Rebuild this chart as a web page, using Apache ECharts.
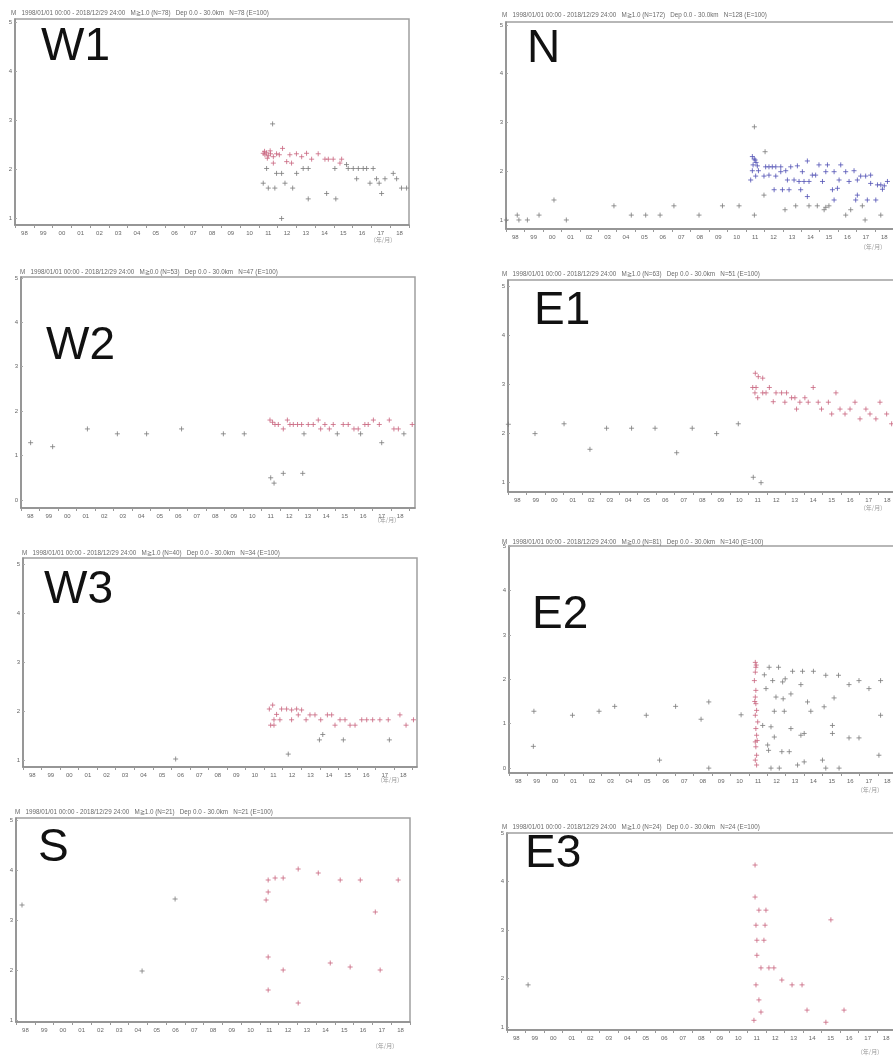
<!DOCTYPE html>
<html>
<head>
<meta charset="utf-8">
<script src="https://cdn.jsdelivr.net/npm/echarts@6.0.0/dist/echarts.min.js"></script>
<style>
html,body{margin:0;padding:0;background:#fff;overflow:hidden;}
#main{width:900px;height:1057px;}
</style>
</head>
<body>
<div id="main"></div>
<script>
// x axis: one label per year, centred in the year
var yearStart=1998;
var yearLabels=['98','99','00','01','02','03','04','05','06','07','08','09','10','11','12','13','14','15','16','17','18'];
var magTicks5=[1,2,3,4,5];
var magTicks6=[0,1,2,3,4,5];
var panelNames=['W1','N','W2','E1','W3','E2','S','E3'];
var unitText='(年/月)';
var headerTexts=[
    'M   1998/01/01 00:00 - 2018/12/29 24:00   M≧1.0 (N=78)   Dep 0.0 - 30.0km   N=78 (E=100)',
    'M   1998/01/01 00:00 - 2018/12/29 24:00   M≧1.0 (N=172)   Dep 0.0 - 30.0km   N=128 (E=100)',
    'M   1998/01/01 00:00 - 2018/12/29 24:00   M≧0.0 (N=53)   Dep 0.0 - 30.0km   N=47 (E=100)',
    'M   1998/01/01 00:00 - 2018/12/29 24:00   M≧1.0 (N=63)   Dep 0.0 - 30.0km   N=51 (E=100)',
    'M   1998/01/01 00:00 - 2018/12/29 24:00   M≧1.0 (N=40)   Dep 0.0 - 30.0km   N=34 (E=100)',
    'M   1998/01/01 00:00 - 2018/12/29 24:00   M≧0.0 (N=81)   Dep 0.0 - 30.0km   N=140 (E=100)',
    'M   1998/01/01 00:00 - 2018/12/29 24:00   M≧1.0 (N=21)   Dep 0.0 - 30.0km   N=21 (E=100)',
    'M   1998/01/01 00:00 - 2018/12/29 24:00   M≧1.0 (N=24)   Dep 0.0 - 30.0km   N=24 (E=100)'
];

// [decimal year, magnitude]
var w1Gray=[[2011.73,2.92],[2015.67,2.09],[2015.76,2.01],[2016.03,2.01],[2016.30,2.01],[2016.56,2.01],[2016.74,2.01],[2017.09,2.01],
    [2011.41,2.01],[2011.94,1.91],[2012.21,1.91],[2013.01,1.91],[2013.36,2.01],[2013.63,2.01],[2015.05,2.01],[2011.23,1.71],
    [2011.50,1.61],[2011.85,1.61],[2012.39,1.71],[2012.80,1.61],[2013.63,1.39],[2014.61,1.50],[2015.10,1.39],[2016.21,1.80],
    [2016.92,1.71],[2017.27,1.80],[2017.41,1.71],[2017.54,1.50],[2017.72,1.80],[2018.16,1.91],[2018.34,1.80],[2018.60,1.61],
    [2018.87,1.61],[2012.21,0.99]];
var w1Red=[[2011.23,2.32],[2011.32,2.29],[2011.41,2.33],[2011.50,2.27],[2011.62,2.31],[2011.77,2.25],[2011.94,2.31],[2012.09,2.29],
    [2012.26,2.42],[2012.65,2.29],[2013.00,2.31],[2013.28,2.25],[2013.54,2.32],[2013.81,2.20],[2014.16,2.31],[2014.52,2.20],
    [2014.70,2.20],[2014.96,2.20],[2015.41,2.20],[2015.32,2.12],[2011.77,2.12],[2012.48,2.15],[2012.74,2.12],[2011.30,2.36],
    [2011.45,2.22],[2011.60,2.37]];

var nGray=[[1998.02,1.00],[1998.61,1.10],[1998.70,1.00],[1999.16,1.00],[1999.79,1.10],[2000.60,1.41],[2001.27,1.00],[2003.85,1.29],
    [2004.79,1.10],[2005.57,1.10],[2006.35,1.10],[2007.10,1.29],[2008.46,1.10],[2009.73,1.29],[2010.63,1.29],[2011.46,1.10],
    [2011.46,2.91],[2012.04,2.40],[2011.98,1.51],[2013.12,1.21],[2013.70,1.29],[2014.42,1.29],[2014.87,1.29],[2015.33,1.26],
    [2015.50,1.29],[2016.41,1.10],[2017.31,1.29],[2017.46,1.00],[2018.31,1.10],[2016.68,1.21],[2015.24,1.21]];
var nBlue=[[2011.35,2.30],[2011.50,2.23],[2011.39,2.13],[2011.62,2.11],[2011.35,2.01],[2011.68,2.01],[2011.26,1.82],[2011.53,1.90],
    [2011.45,2.25],[2011.55,2.18],[2012.07,2.09],[2012.25,2.09],[2012.43,2.09],[2012.62,2.09],[2012.89,2.09],[2013.16,2.01],
    [2013.43,2.09],[2013.79,2.11],[2014.06,1.99],[2014.33,2.21],[2014.96,2.13],[2015.42,2.13],[2016.14,2.13],[2014.60,1.92],
    [2014.78,1.92],[2015.33,1.99],[2015.78,1.99],[2016.41,1.99],[2016.86,2.01],[2017.22,1.90],[2017.49,1.90],[2017.76,1.92],
    [2011.98,1.90],[2012.25,1.92],[2012.62,1.90],[2012.89,1.99],[2013.25,1.82],[2013.61,1.82],[2013.88,1.79],[2014.15,1.79],
    [2014.42,1.79],[2015.15,1.79],[2016.05,1.82],[2016.59,1.79],[2017.04,1.82],[2017.76,1.75],[2018.13,1.72],[2018.40,1.63],
    [2018.67,1.79],[2012.53,1.62],[2012.98,1.62],[2013.34,1.62],[2013.97,1.62],[2015.69,1.62],[2015.96,1.65],[2017.04,1.51],
    [2014.33,1.48],[2015.78,1.41],[2016.95,1.41],[2017.58,1.41],[2018.04,1.41],[2018.31,1.72],[2018.50,1.70]];

var w2Gray=[[1998.52,1.29],[1999.71,1.20],[2001.59,1.60],[2003.21,1.49],[2004.79,1.49],[2006.68,1.60],[2008.94,1.49],[2010.07,1.49],
    [2011.50,0.50],[2011.68,0.38],[2012.18,0.60],[2013.23,0.60],[2017.50,1.29],[2013.30,1.49],[2015.10,1.49],[2016.36,1.49],
    [2018.70,1.49]];
var w2Red=[[2011.46,1.80],[2011.60,1.75],[2011.73,1.70],[2011.91,1.70],[2012.18,1.60],[2012.40,1.80],[2012.54,1.70],[2012.72,1.70],
    [2012.95,1.70],[2013.17,1.70],[2013.53,1.70],[2013.80,1.70],[2014.07,1.80],[2014.20,1.60],[2014.43,1.70],[2014.67,1.60],
    [2014.88,1.70],[2015.42,1.70],[2015.69,1.70],[2016.00,1.60],[2016.23,1.60],[2016.59,1.70],[2016.77,1.70],[2017.05,1.80],
    [2017.37,1.70],[2017.91,1.80],[2018.16,1.60],[2018.40,1.60],[2019.15,1.70]];

var e1Gray=[[1998.02,2.18],[1999.46,1.99],[2001.03,2.19],[2002.43,1.67],[2003.33,2.10],[2004.68,2.10],[2005.95,2.10],[2007.12,1.60],
    [2007.96,2.10],[2009.28,1.99],[2010.45,2.19],[2011.26,1.10],[2011.68,0.99]];
var e1Red=[[2011.37,3.22],[2011.53,3.15],[2011.77,3.12],[2011.23,2.93],[2011.41,2.93],[2011.35,2.82],[2011.50,2.72],[2011.77,2.82],
    [2011.95,2.82],[2012.13,2.93],[2012.34,2.64],[2012.49,2.82],[2012.79,2.82],[2013.06,2.82],[2012.97,2.63],[2013.33,2.72],
    [2013.51,2.72],[2013.60,2.49],[2013.78,2.63],[2014.05,2.72],[2014.23,2.63],[2014.50,2.93],[2014.77,2.63],[2014.95,2.49],
    [2015.32,2.63],[2015.50,2.39],[2015.73,2.82],[2015.95,2.49],[2016.22,2.39],[2016.49,2.49],[2016.76,2.63],[2017.03,2.29],
    [2017.35,2.49],[2017.57,2.39],[2017.89,2.29],[2018.11,2.63],[2018.47,2.39],[2018.74,2.19]];

var w3Gray=[[2006.23,1.02],[2013.98,1.41],[2014.16,1.52],[2015.27,1.41],[2017.75,1.41],[2012.30,1.12]];
var w3Red=[[2011.28,2.04],[2011.46,2.12],[2011.67,1.93],[2011.94,2.04],[2012.21,2.04],[2012.48,2.02],[2012.75,2.04],[2013.02,2.02],
    [2011.53,1.82],[2011.85,1.82],[2012.48,1.82],[2012.84,1.92],[2013.26,1.82],[2013.47,1.92],[2013.74,1.92],[2014.05,1.82],
    [2014.41,1.92],[2014.64,1.92],[2014.82,1.71],[2015.09,1.82],[2015.36,1.82],[2015.63,1.71],[2015.90,1.71],[2016.26,1.82],
    [2016.53,1.82],[2016.85,1.82],[2017.24,1.82],[2017.69,1.82],[2018.32,1.92],[2018.65,1.71],[2019.05,1.82],[2011.35,1.71],
    [2011.53,1.71]];

var e2Gray=[[1999.35,1.28],[1999.32,0.49],[2001.44,1.19],[2002.88,1.28],[2003.73,1.39],[2005.44,1.19],[2006.16,0.18],[2007.03,1.39],
    [2008.41,1.10],[2008.83,1.49],[2008.83,0.00],[2010.58,1.20],[2012.10,2.27],[2012.61,2.27],[2011.84,2.10],[2012.29,1.97],
    [2012.83,1.94],[2012.97,2.01],[2013.37,2.18],[2013.91,2.18],[2014.50,2.18],[2015.17,2.09],[2015.86,2.09],[2016.43,1.88],
    [2016.97,1.97],[2017.51,1.79],[2018.14,1.97],[2013.82,1.88],[2011.93,1.79],[2012.47,1.60],[2012.86,1.56],[2013.28,1.67],
    [2014.18,1.49],[2015.08,1.38],[2015.62,1.58],[2012.38,1.28],[2012.92,1.28],[2014.36,1.28],[2018.14,1.19],[2011.75,0.96],
    [2012.20,0.93],[2013.28,0.89],[2013.82,0.74],[2014.00,0.78],[2015.53,0.96],[2015.53,0.78],[2016.43,0.68],[2016.97,0.68],
    [2012.38,0.70],[2012.02,0.52],[2012.07,0.40],[2012.79,0.37],[2013.19,0.37],[2013.64,0.07],[2014.00,0.14],[2014.99,0.18],
    [2015.17,0.00],[2015.89,0.00],[2012.20,0.00],[2012.65,0.00],[2018.05,0.29]];
var e2Red=[[2011.35,2.38],[2011.38,2.27],[2011.35,2.16],[2011.30,1.97],[2011.38,1.75],[2011.35,1.60],[2011.38,1.45],[2011.42,1.30],
    [2011.35,1.19],[2011.48,1.04],[2011.38,0.89],[2011.42,0.74],[2011.35,0.59],[2011.38,0.48],[2011.42,0.29],[2011.35,0.18],
    [2011.42,0.07],[2011.40,2.32],[2011.32,1.50],[2011.45,0.62]];

var sGray=[[1998.32,3.30],[2006.48,3.42],[2004.72,1.98]];
var sRed=[[2011.44,3.80],[2011.81,3.84],[2012.24,3.84],[2011.44,3.56],[2011.33,3.40],[2013.04,4.02],[2014.11,3.94],[2015.28,3.80],
    [2016.35,3.80],[2018.37,3.80],[2017.15,3.16],[2011.44,2.26],[2011.44,1.60],[2012.24,2.00],[2013.04,1.34],[2014.75,2.14],
    [2015.81,2.06],[2017.41,2.00]];

var e3Gray=[[1999.14,1.87]];
var e3Red=[[2011.41,4.34],[2011.41,3.68],[2011.62,3.41],[2012.00,3.41],[2011.46,3.10],[2011.95,3.10],[2011.51,2.79],[2011.89,2.79],
    [2011.51,2.48],[2011.73,2.22],[2012.16,2.22],[2011.46,1.87],[2011.62,1.56],[2011.73,1.31],[2011.35,1.14],[2012.43,2.22],
    [2012.86,1.97],[2013.41,1.87],[2013.95,1.87],[2015.51,3.21],[2014.22,1.35],[2016.22,1.35],[2015.24,1.10]];

window.onload=function(){
    var chart=echarts.init(document.getElementById('main'));
    var red='#c8647e',blue='#5050b4',gray='#7a7a7a';
    // panel boxes (pixels) and axis ranges
    var panels=[
        {l:15, t:19, w:394,h:206,xMax:2019.00,yMin:0.857,yMax:5.06,ticks:magTicks5,lx:41, ly:47.5,hx:11, hy:13, ux:383,uy:240, a:w1Gray,b:w1Red,c:red},
        {l:506,t:22, w:389,h:207,xMax:2019.08,yMin:0.815,yMax:5.06,ticks:magTicks5,lx:527,ly:49.5,hx:502,hy:15, ux:873,uy:247, a:nGray, b:nBlue,c:blue},
        {l:21, t:277,w:394,h:231,xMax:2019.30,yMin:-0.18,yMax:5.02,ticks:magTicks6,lx:46, ly:346.5,hx:20,hy:272,ux:387,uy:520, a:w2Gray,b:w2Red,c:red},
        {l:508,t:280,w:389,h:212,xMax:2019.03,yMin:0.80, yMax:5.12,ticks:magTicks5,lx:534,ly:311.5,hx:502,hy:274,ux:873,uy:508,a:e1Gray,b:e1Red,c:red},
        {l:23, t:558,w:394,h:209,xMax:2019.24,yMin:0.857,yMax:5.12,ticks:magTicks5,lx:44, ly:590, hx:22, hy:553,ux:390,uy:780, a:w3Gray,b:w3Red,c:red},
        {l:509,t:546,w:388,h:227,xMax:2019.03,yMin:-0.11,yMax:5.00,ticks:magTicks6,lx:532,ly:615, hx:502,hy:542,ux:870,uy:790, a:e2Gray,b:e2Red,c:red},
        {l:16, t:818,w:394,h:204,xMax:2019.00,yMin:0.96, yMax:5.04,ticks:magTicks5,lx:38, ly:848, hx:15, hy:812,ux:385,uy:1046,a:sGray, b:sRed, c:red},
        {l:507,t:833,w:389,h:197,xMax:2019.03,yMin:0.94, yMax:5.00,ticks:magTicks5,lx:525,ly:854, hx:502,hy:827,ux:870,uy:1052,a:e3Gray,b:e3Red,c:red}
    ];
    var tickYears=[],labelYears=[];
    for(var k=0;k<yearLabels.length;k++){
        tickYears.push(yearStart+k);
        labelYears.push(yearStart+k+0.5);
    }
    tickYears.push(yearStart+yearLabels.length);
    var mark='path://M5,0L5,10M0,5L10,5';
    var grids=[],xAxes=[],yAxes=[],series=[],graphics=[];
    panels.forEach(function(p,i){
        grids.push({left:p.l,top:p.t,width:p.w,height:p.h,show:true,borderColor:'#a0a0a0',borderWidth:1.5});
        xAxes.push({
            type:'value',gridIndex:i,min:yearStart,max:p.xMax,
            axisLine:{show:true,onZero:false,lineStyle:{color:'#8c8c8c',width:1.5}},
            splitLine:{show:false},
            axisTick:{show:true,customValues:tickYears,length:3,lineStyle:{color:'#999'}},
            axisLabel:{customValues:labelYears,fontSize:6,color:'#666',margin:5,
                formatter:function(v){return yearLabels[Math.floor(v+0.1)-yearStart];}}
        });
        yAxes.push({
            type:'value',gridIndex:i,min:p.yMin,max:p.yMax,
            axisLine:{show:true,onZero:false,lineStyle:{color:'#8c8c8c',width:1.5}},
            splitLine:{show:false},
            axisTick:{show:true,customValues:p.ticks,length:2,inside:true,lineStyle:{color:'#aaa'}},
            axisLabel:{customValues:p.ticks,fontSize:6,color:'#666',margin:3}
        });
        series.push({type:'scatter',xAxisIndex:i,yAxisIndex:i,data:p.a,symbol:mark,symbolSize:5,silent:true,
            itemStyle:{color:gray,borderColor:gray,borderWidth:1}});
        series.push({type:'scatter',xAxisIndex:i,yAxisIndex:i,data:p.b,symbol:mark,symbolSize:5,silent:true,
            itemStyle:{color:p.c,borderColor:p.c,borderWidth:1}});
        graphics.push({type:'text',x:p.lx,y:p.ly,style:{text:panelNames[i],fontSize:46,fontFamily:'Liberation Sans',fill:'#111',verticalAlign:'middle'}});
        graphics.push({type:'text',x:p.hx,y:p.hy,style:{text:headerTexts[i],fontSize:6.3,fontFamily:'Liberation Sans',fill:'#6a6a6a',verticalAlign:'middle'}});
        graphics.push({type:'text',x:p.ux,y:p.uy,style:{text:unitText,fontSize:6,fontFamily:'Noto Sans CJK JP',fill:'#999',align:'center',verticalAlign:'middle'}});
    });
    chart.setOption({
        animation:false,
        backgroundColor:'#fff',
        grid:grids,
        xAxis:xAxes,
        yAxis:yAxes,
        series:series,
        graphic:graphics
    });
};
</script>
</body>
</html>
